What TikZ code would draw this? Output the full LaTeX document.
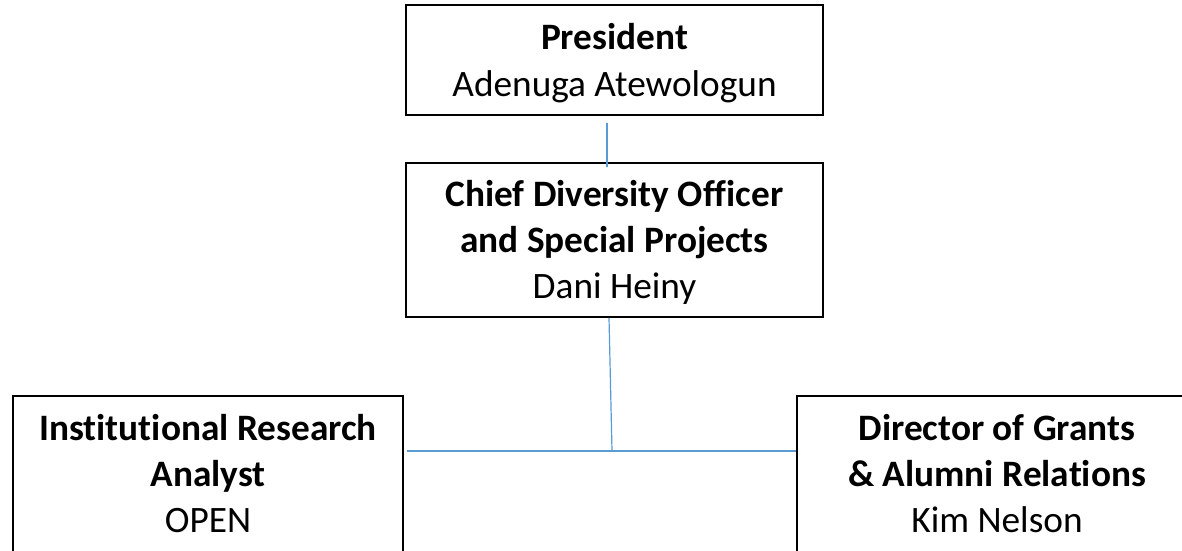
\documentclass[tikz,border=0pt]{standalone}
\usepackage{fontspec}
\setmainfont{Carlito}[Ligatures=NoCommon]
\begin{document}
\begin{tikzpicture}[x=1pt,y=-1pt,
  box/.style={draw=black,line width=1.6pt,rectangle,inner sep=0pt},
  conn/.style={draw={rgb,255:red,91;green,155;blue,213},line width=1.2pt},
  txt/.style={anchor=base,inner sep=0pt,font=\fontsize{37.3}{46}\selectfont},
  btxt/.style={txt,font=\fontsize{37.3}{46}\selectfont\bfseries}]
\useasboundingbox (0,0) rectangle (1182,550);
\clip (0,0) rectangle (1182,550);
\fill[white] (0,0) rectangle (1182,550);
% boxes
\node[box,minimum width=417,minimum height=110] (pres) at (614.5,60) {};
\node[box,minimum width=417,minimum height=154] (cdo) at (614.5,240) {};
\node[box,minimum width=390,minimum height=224] (ira) at (208,508) {};
\node[box,minimum width=433,minimum height=224] (dir) at (1013.5,508) {};
% texts
\node[btxt] (t1) at (614.5,49.5) {President};
\node[txt] (t2) at (614.5,96) {Adenuga Atewologun};
\node[btxt] (t3) at (614.5,206) {Chief Diversity Officer};
\node[btxt] (t4) at (614.5,252) {and Special Projects};
\node[txt] (t5) at (614.5,298) {Dani Heiny};
\node[btxt] (t6) at (208,440) {Institutional Research};
\node[btxt] (t7) at (208,486) {Analyst};
\node[txt] (t8) at (208,532) {OPEN};
\node[btxt] (t9) at (997,440) {Director of Grants};
\node[btxt] (t10) at (997,486) {\& Alumni Relations};
\node[txt] (t11) at (997,532) {Kim Nelson};
% connectors
\coordinate (jn) at (612,451);
\draw[conn] ([shift={(-7.5,7)}]pres.south) -- ([shift={(-7.5,5)}]cdo.north);
\draw[conn] ([xshift=-5.5pt]cdo.south) -- (jn);
\draw[conn] ([xshift=3pt]jn -| ira.east) -- (jn -| dir.west);
\end{tikzpicture}
\end{document}
